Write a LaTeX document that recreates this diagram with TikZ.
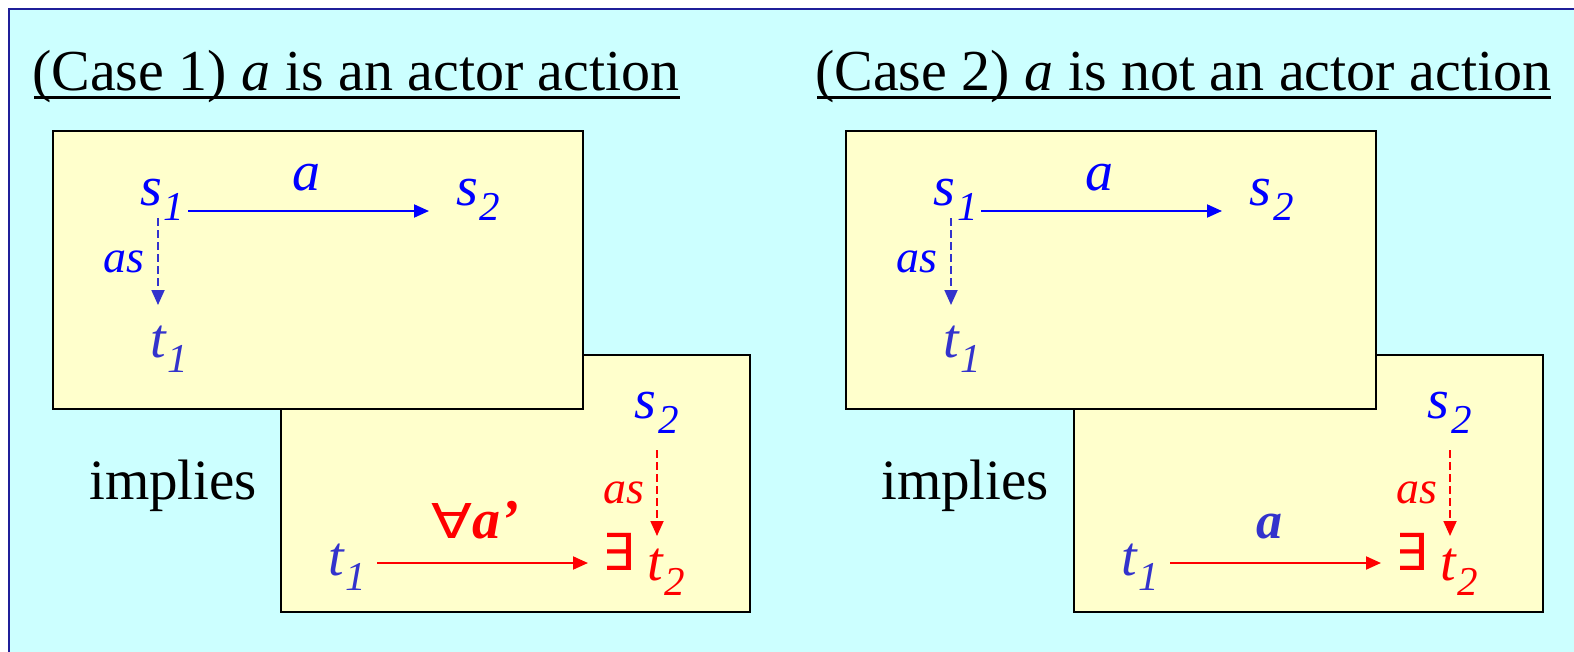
\documentclass[tikz,border=0pt]{standalone}
\usepackage{fontspec}
\setmainfont{Liberation Serif}
\newfontfamily\symfont{DejaVu Sans}
\usetikzlibrary{arrows.meta,calc}
\definecolor{bgc}{HTML}{CCFFFF}
\definecolor{boxc}{HTML}{FFFFCC}
\definecolor{bl}{HTML}{0000FF}
\definecolor{tb}{HTML}{3333CC}
\definecolor{rd}{HTML}{FF0000}
\definecolor{framec}{HTML}{1F1F99}
\newcommand\subs[1]{\kern2pt\raisebox{-15pt}{\fontsize{41}{41}\selectfont\itshape #1}}
\newcommand\fa{\scalebox{1.25}[1]{\fontsize{48}{48}\selectfont\symfont ∀}}
\newcommand\ex{{\fontsize{51}{51}\selectfont\symfont ∃}}
\begin{document}
\begin{tikzpicture}[x=1pt,y=-1pt,
  txt/.style={inner sep=0pt,anchor=base west},
  var/.style={txt,font=\fontsize{56}{56}\selectfont\itshape},
  ttl/.style={txt,font=\fontsize{58}{58}\selectfont},
  lbl/.style={txt,font=\fontsize{46}{46}\selectfont\itshape},
  panel/.style={draw=black,line width=2pt,fill=boxc},
  arr/.style={line width=2pt,-{Triangle[length=15pt,width=13pt]}},
  darr/.style={line width=1.8pt,dash pattern=on 8pt off 4pt,-{Triangle[length=15pt,width=13pt]}}
]
\useasboundingbox (0,0) rectangle (1574,651);
\fill[white] (0,0) rectangle (1574,651);
\draw[framec,line width=2.5pt,fill=bgc] (9,9) rectangle (1600,680);

% titles
\node[ttl] (title1) at (32,90) {(Case 1) \textit{a} is an actor action};
\draw[line width=3pt] ($(title1.base west)+(2,7)$) -- ($(title1.base east)+(0,7)$);
\node[ttl] (title2) at (815,90) {(Case 2) \textit{a} is not an actor action};
\draw[line width=3pt] ($(title2.base west)+(2,7)$) -- ($(title2.base east)+(0,7)$);

% ---------- Case 1 ----------
\path[panel] (281,355) rectangle (750,612);
\path[panel] (53,131) rectangle (583,409);

\node[var,text=bl] (s1) at (140,205) {s\subs{1}};
\node[var,text=bl] (s2) at (456,205) {s\subs{2}};
\node[var,text=bl,anchor=base] (la) at (306,190) {a};
\node[lbl,text=bl,anchor=base east] (las) at (145,272) {as};
\node[var,text=tb] (t1) at (150,357) {t\subs{1}};
\draw[arr,bl] ($(s1.base west)+(48,6)$) -- ($(s2.base west)+(-27,6)$);
\draw[darr,tb] ($(s1.base west)+(18,13)$) -- ($(t1.base west)+(8,-52)$);

\node[ttl,font=\fontsize{57}{57}\selectfont] (imp1) at (89,499) {implies};

\node[var,text=bl] (s2b) at (634,418) {s\subs{2}};
\node[var,text=tb] (t1b) at (328,575) {t\subs{1}};
\node[txt,text=rd] (exb) at (602,570) {\ex};
\node[var,text=rd] (t2b) at (647,580) {t\subs{2}};
\node[txt,text=rd,font=\fontsize{56}{56}\selectfont] (lfa) at (431,538) {\fa\textbf{\textit{a’}}};
\node[lbl,text=rd,anchor=base east] (asb) at (645,503) {as};
\draw[arr,rd] ($(t1b.base west)+(49,-12)$) -- ($(exb.base west)+(-14,-7)$);
\draw[darr,rd] ($(s2b.base west)+(23,32)$) -- ($(t2b.base west)+(10,-44)$);

% ---------- Case 2 ----------
\begin{scope}[xshift=793pt]
\path[panel] (281,355) rectangle (750,612);
\path[panel] (53,131) rectangle (583,409);

\node[var,text=bl] (s1c) at (140,205) {s\subs{1}};
\node[var,text=bl] (s2c) at (456,205) {s\subs{2}};
\node[var,text=bl,anchor=base] (lac) at (306,190) {a};
\node[lbl,text=bl,anchor=base east] (lasc) at (145,272) {as};
\node[var,text=tb] (t1c) at (150,357) {t\subs{1}};
\draw[arr,bl] ($(s1c.base west)+(48,6)$) -- ($(s2c.base west)+(-27,6)$);
\draw[darr,tb] ($(s1c.base west)+(18,13)$) -- ($(t1c.base west)+(8,-52)$);

\node[ttl,font=\fontsize{57}{57}\selectfont] (imp2) at (88,499) {implies};

\node[var,text=bl] (s2d) at (634,418) {s\subs{2}};
\node[var,text=tb] (t1d) at (328,575) {t\subs{1}};
\node[txt,text=rd] (exd) at (602,570) {\ex};
\node[var,text=rd] (t2d) at (647,580) {t\subs{2}};
\node[var,text=tb,anchor=base,font=\fontsize{52}{52}\selectfont\bfseries\itshape] (lad) at (476,538) {a};
\node[lbl,text=rd,anchor=base east] (asd) at (645,503) {as};
\draw[arr,rd] ($(t1d.base west)+(49,-12)$) -- ($(exd.base west)+(-14,-7)$);
\draw[darr,rd] ($(s2d.base west)+(23,32)$) -- ($(t2d.base west)+(10,-44)$);
\end{scope}
\end{tikzpicture}
\end{document}
